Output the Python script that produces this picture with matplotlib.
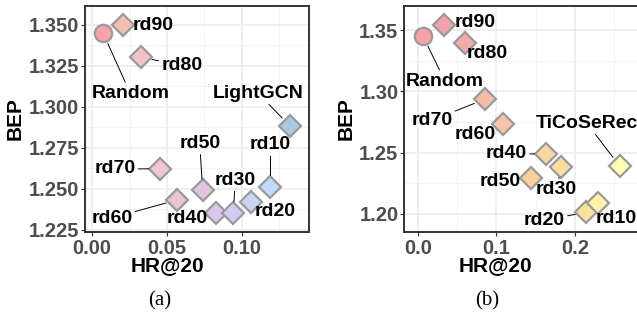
import matplotlib
matplotlib.use("Agg")
import matplotlib.pyplot as plt
from matplotlib.ticker import MultipleLocator, FormatStrFormatter

plt.rcParams['font.family'] = ['Liberation Sans', 'DejaVu Sans']
plt.rcParams['font.weight'] = 'bold'

# panel (a): LightGCN
a_names = ['Random', 'rd90', 'rd80', 'rd70', 'rd60', 'rd50',
           'rd40', 'rd30', 'rd20', 'rd10', 'LightGCN']
a_hr = [0.0075, 0.0205, 0.0327, 0.0453, 0.0565, 0.0738,
        0.0827, 0.0942, 0.1058, 0.119, 0.132]
a_bep = [1.3446, 1.3497, 1.3300, 1.2620, 1.2430, 1.2489,
         1.2350, 1.2350, 1.2418, 1.2511, 1.2881]

# panel (b): TiCoSeRec
b_names = ['Random', 'rd90', 'rd80', 'rd70', 'rd60', 'rd50',
           'rd40', 'rd30', 'rd20', 'rd10', 'TiCoSeRec']
b_hr = [0.0064, 0.033, 0.0594, 0.085, 0.108, 0.1444,
        0.1626, 0.1826, 0.2144, 0.229, 0.257]
b_bep = [1.345, 1.354, 1.3397, 1.2935, 1.2734, 1.2296,
         1.249, 1.2386, 1.2014, 1.2088, 1.239]

a_colors = ['#F4A3A8', '#F4BFB3', '#F1C3C6', '#EEC6D2', '#E9C3D6', '#E2C4E1',
            '#D9C7EC', '#D3CCF0', '#C9D3F4', '#BDDBFB', '#A9C9E2']
b_colors = ['#F4A3A8', '#F2A2A8', '#F3ABAA', '#F6BCAA', '#F7C5AA', '#F9CF9F',
            '#F9D6A2', '#FADCA0', '#FBE29C', '#FDF3AA', '#FEFDB2']

# label offsets in pixels (dx right, dy down) and whether a segment is drawn
a_offsets = [(27, 60), (30, 0), (41, 8), (-45, 0), (-65, 18), (-3, -47),
             (-29, 5), (2, -33), (24, 10), (0, -42), (-32, -33)]
a_lines = [True, False, True, True, True, True, False, True, False, True, True]
b_offsets = [(22, 45), (31, -3), (23, 11), (-53, 21), (-28, 11), (-31, 4),
             (-39, 0), (-5, 23), (-42, 8), (18, 15), (-33, -43)]
b_lines = [True, False, False, True, False, False, True, True, True, False, True]

W, H = 637, 323
fig = plt.figure(figsize=(W / 100, H / 100), dpi=100)


def px_axes(left, top, right, bottom):
    return fig.add_axes([left / W, 1 - bottom / H, (right - left) / W, (bottom - top) / H])


def draw_panel(ax, hr, bep, names, colors, offsets, lines,
               xlim, ylim, xstep, ystep, xfmt, yfmt):
    ax.set_xlim(xlim)
    ax.set_ylim(ylim)
    ax.xaxis.set_major_locator(MultipleLocator(xstep))
    ax.xaxis.set_minor_locator(MultipleLocator(xstep / 2))
    ax.yaxis.set_major_locator(MultipleLocator(ystep))
    ax.yaxis.set_minor_locator(MultipleLocator(ystep / 2))
    ax.xaxis.set_major_formatter(FormatStrFormatter(xfmt))
    ax.yaxis.set_major_formatter(FormatStrFormatter(yfmt))
    ax.grid(which='major', color='#EBEBEB', lw=1.1)
    ax.grid(which='minor', color='#F2F2F2', lw=0.6)
    ax.set_axisbelow(True)
    for s in ax.spines.values():
        s.set_color('#333333')
        s.set_linewidth(1.4)
    ax.tick_params(which='major', length=3, width=0.8, color='#333333',
                   labelsize=14.5, labelcolor='#4D4D4D')
    ax.tick_params(axis='y', pad=1)
    ax.tick_params(axis='x', pad=2)
    ax.tick_params(which='minor', length=0)

    for i, name in enumerate(names):
        mk = 'o' if name == 'Random' else 'D'
        ax.plot(hr[i], bep[i], marker=mk, ms=12.5 if mk == 'o' else 11,
                mfc=colors[i], mec='#9A9A9A', mew=1.6, ls='none', zorder=3)
        dx, dy = offsets[i]
        arrow = dict(arrowstyle='-', color='black', lw=0.7,
                     shrinkA=0, shrinkB=8) if lines[i] else None
        ax.annotate(name, (hr[i], bep[i]), xytext=(dx * 0.72, -dy * 0.72),
                    textcoords='offset points', ha='center', va='center',
                    fontsize=14, color='black', arrowprops=arrow,
                    annotation_clip=False, zorder=4)


ax_a = px_axes(85, 6, 309, 232)
draw_panel(ax_a, a_hr, a_bep, a_names, a_colors, a_offsets, a_lines,
           (-0.0047, 0.1447), (1.2235, 1.3613), 0.05, 0.025, '%.2f', '%.3f')

ax_b = px_axes(404, 6, 650, 232)
draw_panel(ax_b, b_hr, b_bep, b_names, b_colors, b_offsets, b_lines,
           (-0.0178, 0.2955), (1.1853, 1.3696), 0.1, 0.05, '%.1f', '%.2f')

# axis titles
fig.text(167 / W, 1 - 266 / H, 'HR@20', ha='center', va='center', fontsize=15)
fig.text(15 / W, 1 - 119 / H, 'BEP', ha='center', va='center', fontsize=15, rotation=90)
fig.text(495 / W, 1 - 266 / H, 'HR@20', ha='center', va='center', fontsize=15)
fig.text(346 / W, 1 - 119 / H, 'BEP', ha='center', va='center', fontsize=15, rotation=90)

# captions
fig.text(160 / W, 1 - 301 / H, '(a)', ha='center', va='center', fontsize=15,
         fontweight='normal', family='Liberation Serif')
fig.text(487 / W, 1 - 301 / H, '(b)', ha='center', va='center', fontsize=15,
         fontweight='normal', family='Liberation Serif')

fig.savefig('out.png', dpi=100)
